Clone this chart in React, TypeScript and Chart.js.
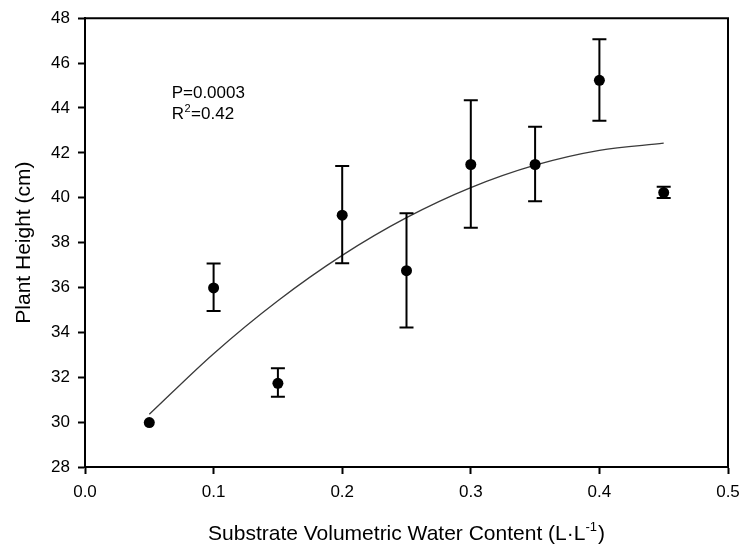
import React, { useEffect, useRef } from "react";
import { Chart, registerables } from "chart.js";

Chart.register(...registerables);

// Substrate volumetric water content (L·L-1)
const xValues = [0.05, 0.1, 0.15, 0.2, 0.25, 0.3, 0.35, 0.4, 0.45];
// Mean plant height (cm)
const heightMeans = [29.98, 35.98, 31.73, 39.22, 36.75, 41.48, 41.48, 45.23, 40.23];
// Error bar ends
const errUpper = [29.98, 37.07, 32.4, 41.41, 39.31, 44.34, 43.16, 47.06, 40.49];
const errLower = [29.98, 34.95, 31.13, 37.08, 34.22, 38.66, 39.84, 43.43, 39.99];
// Fitted regression curve
const curveX = [0.05, 0.1, 0.15, 0.2, 0.25, 0.3, 0.35, 0.4, 0.45];
const curveY = [30.35, 33.05, 35.41, 37.43, 39.11, 40.45, 41.45, 42.11, 42.43];

const xTitle = "Substrate Volumetric Water Content (L\u00B7L";
const xTitleSup = "-1";
const yTitle = "Plant Height (cm)";
const statP = "P=0.0003";
const statR2 = "0.42";
const statPos = { x: 0.0674, yP: 44.43, yR: 43.5 };

const FONT = "'Liberation Sans', Arial, Helvetica, sans-serif";

const decorPlugin = {
  id: "decor",
  afterDatasetsDraw(chart: any) {
    const { ctx, chartArea: a, scales } = chart;
    const xs = scales.x;
    const ys = scales.y;
    ctx.save();
    // error bars
    ctx.strokeStyle = "#000";
    ctx.lineWidth = 2;
    for (let i = 0; i < xValues.length; i++) {
      const px = xs.getPixelForValue(xValues[i]);
      const pu = ys.getPixelForValue(errUpper[i]);
      const pl = ys.getPixelForValue(errLower[i]);
      if (Math.abs(pl - pu) < 1) continue;
      ctx.beginPath();
      ctx.moveTo(px, pu);
      ctx.lineTo(px, pl);
      ctx.moveTo(px - 7, pu);
      ctx.lineTo(px + 7, pu);
      ctx.moveTo(px - 7, pl);
      ctx.lineTo(px + 7, pl);
      ctx.stroke();
    }
    // frame top & right
    ctx.beginPath();
    ctx.moveTo(a.left - 1, a.top);
    ctx.lineTo(a.right, a.top);
    ctx.lineTo(a.right, a.bottom + 1);
    ctx.stroke();

    ctx.fillStyle = "#000";
    // statistics annotation
    const sx = xs.getPixelForValue(statPos.x);
    const syP = ys.getPixelForValue(statPos.yP);
    const syR = ys.getPixelForValue(statPos.yR);
    ctx.textAlign = "left";
    ctx.textBaseline = "alphabetic";
    ctx.font = `17px ${FONT}`;
    ctx.fillText(statP, sx, syP);
    ctx.fillText("R", sx, syR);
    const w = ctx.measureText("R").width;
    ctx.font = `11px ${FONT}`;
    ctx.fillText("2", sx + w + 0.5, syR - 7);
    const w2 = ctx.measureText("2").width;
    ctx.font = `17px ${FONT}`;
    ctx.fillText("=" + statR2, sx + w + w2 + 1, syR);

    // x title
    ctx.font = `21px ${FONT}`;
    const wMain = ctx.measureText(xTitle).width;
    const wClose = ctx.measureText(")").width;
    ctx.font = `13px ${FONT}`;
    const wSup = ctx.measureText(xTitleSup).width;
    const total = wMain + wSup + 1 + wClose;
    const cx = (a.left + a.right) / 2;
    let tx = cx - total / 2;
    const ty = chart.height - 6;
    ctx.font = `21px ${FONT}`;
    ctx.fillText(xTitle, tx, ty);
    tx += wMain;
    ctx.font = `13px ${FONT}`;
    ctx.fillText(xTitleSup, tx, ty - 9);
    tx += wSup + 1;
    ctx.font = `21px ${FONT}`;
    ctx.fillText(")", tx, ty);

    // y title
    ctx.translate(30, (a.top + a.bottom) / 2);
    ctx.rotate(-Math.PI / 2);
    ctx.textAlign = "center";
    ctx.font = `21px ${FONT}`;
    ctx.fillText(yTitle, 0, 0);
    ctx.restore();
  },
};

export default function App() {
  const ref = useRef<HTMLCanvasElement | null>(null);
  useEffect(() => {
    if (!ref.current) return;
    Chart.defaults.font.family = FONT;
    Chart.defaults.color = "#000";
    const chart = new Chart(ref.current, {
      type: "scatter",
      data: {
        datasets: [
          {
            label: "fit",
            data: curveX.map((x, i) => ({ x, y: curveY[i] })),
            showLine: true,
            borderColor: "#3a3a3a",
            borderWidth: 1.3,
            pointRadius: 0,
            cubicInterpolationMode: "monotone",
            order: 2,
          },
          {
            label: "height",
            data: xValues.map((x, i) => ({ x, y: heightMeans[i] })),
            showLine: false,
            pointRadius: 5.5,
            pointBackgroundColor: "#000",
            pointBorderColor: "#000",
            pointBorderWidth: 0,
            order: 1,
          },
        ],
      },
      options: {
        responsive: false,
        animation: false,
        devicePixelRatio: 1,
        layout: { padding: { top: 15, right: 20, left: 0, bottom: 0 } },
        plugins: {
          legend: { display: false },
          tooltip: { enabled: false },
        },
        scales: {
          x: {
            type: "linear",
            min: 0,
            max: 0.5,
            border: { display: true, color: "#000", width: 2 },
            grid: {
              display: true,
              drawOnChartArea: false,
              drawTicks: true,
              tickLength: 7,
              tickColor: "#000",
              tickWidth: 2,
              color: "#000",
            },
            ticks: {
              stepSize: 0.1,
              padding: 8,
              color: "#000",
              font: { size: 17, family: FONT },
              callback: (v: any) => Number(v).toFixed(1),
            },
            afterFit: (s: any) => {
              s.height = 79;
            },
          },
          y: {
            type: "linear",
            min: 28,
            max: 48,
            border: { display: true, color: "#000", width: 2 },
            grid: {
              display: true,
              drawOnChartArea: false,
              drawTicks: true,
              tickLength: 7,
              tickColor: "#000",
              tickWidth: 2,
              color: "#000",
            },
            ticks: {
              stepSize: 2,
              padding: 8,
              color: "#000",
              font: { size: 17, family: FONT },
              callback: (v: any) => String(v),
            },
            afterFit: (s: any) => {
              s.width = 85;
            },
          },
        },
      },
      plugins: [decorPlugin],
    });
    return () => chart.destroy();
  }, []);
  return (
    <div style={{ position: "fixed", left: 0, top: 0, width: 748, height: 546, background: "#fff" }}>
      <canvas ref={ref} width={748} height={546} />
    </div>
  );
}
